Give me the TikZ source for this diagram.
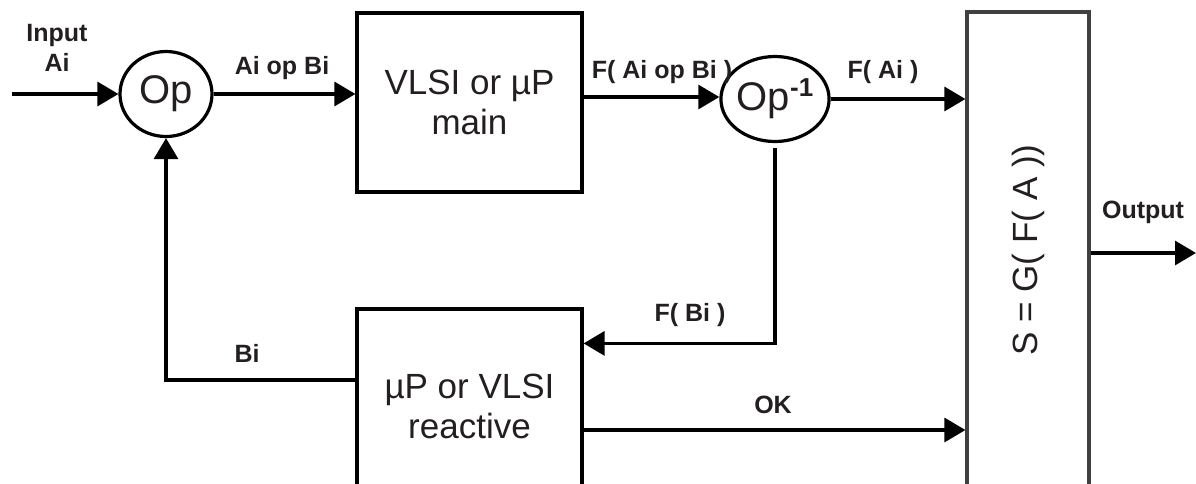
\documentclass[tikz,border=0pt]{standalone}
\usepackage{fontspec}
\setmainfont{Liberation Sans}
\usetikzlibrary{arrows.meta,calc,shapes.geometric}
\definecolor{txt}{HTML}{231F20}
\definecolor{gbox}{HTML}{404040}
\begin{document}
\begin{tikzpicture}[x=1pt,y=-1pt,
  line width=3.2pt,
  arr/.style={-{Triangle[length=21pt,width=24pt]}},
  blk/.style={draw,rectangle,inner sep=0pt,text=txt,font=\fontsize{35}{40}\selectfont,align=center},
  opc/.style={draw,ellipse,inner sep=0pt,text=txt,font=\fontsize{40}{44}\selectfont},
  lab/.style={text=txt,font=\fontsize{25}{30}\selectfont\bfseries,align=center,inner sep=0pt}]
\useasboundingbox (0,0) rectangle (1196,483);
\clip (0,0) rectangle (1196,483);
\node[opc,minimum width=92pt,minimum height=85pt] (op) at (166,94) {Op};
\node[opc,minimum width=94pt,minimum height=85pt] (opinv) at (775,99) {Op\raisebox{14pt}{\fontsize{26}{26}\selectfont\bfseries -1}};
\node[blk,minimum width=225pt,minimum height=179pt] (vlsi) at (469.5,102.5) {VLSI or µP\\main};
\node[blk,minimum width=225pt,minimum height=194pt] (react) at (469.5,406) {µP or VLSI\\reactive};
\node[blk,draw=gbox,minimum width=122pt,minimum height=476pt] (big) at (1028,250) {};
\node[text=txt,font=\fontsize{35}{40}\selectfont,rotate=90,inner sep=0pt] (stext) at (big.center) {S = G( F( A ))};
\coordinate (in) at (12,94);
\coordinate (out) at (1196,253);
\node[lab] (linput) at (57,48) {Input\\Ai};
\node[lab] (lab1) at (282,68) {Ai op Bi};
\node[lab] (lab2) at (662,72) {F( Ai op Bi )};
\node[lab] (lab3) at (883,72) {F( Ai )};
\node[lab] (lab4) at (1143,212) {Output};
\node[lab] (lab5) at (690,315) {F( Bi )};
\node[lab] (lab6) at (247,353) {Bi};
\node[lab] (lab7) at (773,405) {OK};
\draw[arr] (in) -- (op.west);
\draw[arr] (op.east) -- (vlsi.west |- op.east);
\draw[arr] (vlsi.east |- 0,97) -- (opinv.west |- 0,97);
\draw[arr] (opinv.east) -- (big.west |- opinv.east);
\draw[arr] ($(opinv.south)+(0,5)$) |- ($(react.north east)+(0,36)$);
\draw[arr] ($(react.west)+(0,-26)$) -| (op.south);
\draw[arr] ($(react.east)+(0,24)$) -- (big.west |- 0,430);
\draw[arr] (big.east |- out) -- (out);
\end{tikzpicture}
\end{document}
